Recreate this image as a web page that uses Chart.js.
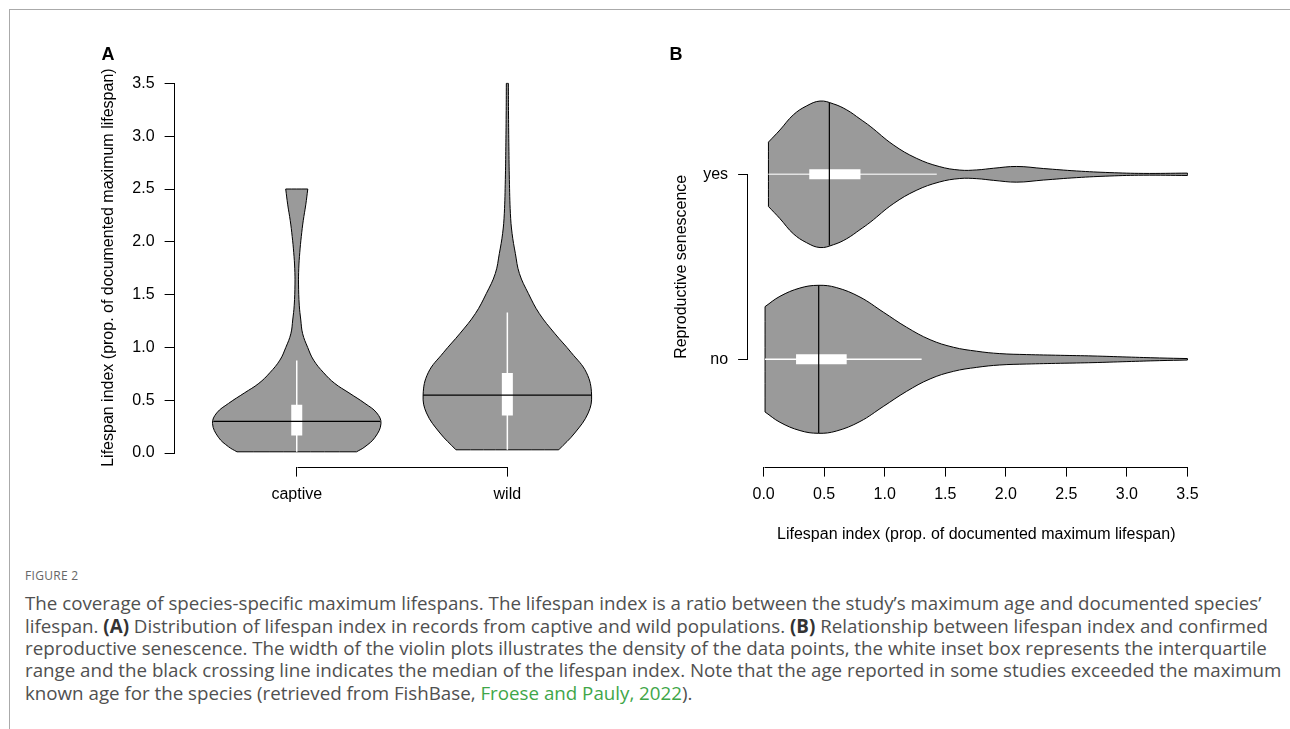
<!DOCTYPE html>
<html>
<head>
<meta charset="utf-8">
<script src="https://cdn.jsdelivr.net/npm/chart.js@4.4.1/dist/chart.umd.min.js"></script>
<style>
body{margin:0;background:#fff;width:1290px;height:729px;position:relative;overflow:hidden;font-family:"Liberation Sans",Arial,sans-serif}
#frame{position:absolute;left:9px;top:9px;width:1300px;height:740px;border-top:1px solid #aaa;border-left:1px solid #aaa}
canvas{position:absolute;top:0}
#cA{left:0}
#cB{left:645px}
.pl{position:absolute;top:45px;font:bold 18px/18px "Liberation Sans",Arial,sans-serif;color:#000}
.cap{position:absolute;left:25px;white-space:nowrap;font-family:"Open Sans",sans-serif;color:#505050;line-height:22px}
.cap b{color:#333}
.fig{font-size:12px;color:#666;letter-spacing:0.3px}
.g{color:#3fa649}
</style>
</head>
<body>
<div id="frame"></div>
<canvas id="cA" width="645" height="560"></canvas>
<canvas id="cB" width="645" height="560"></canvas>
<div class="pl" style="left:101.5px">A</div>
<div class="pl" style="left:669.5px">B</div>

<div class="cap fig" style="top:565px">FIGURE 2</div>
<div class="cap ln" style="top:592px" id="l1">The coverage of species-specific maximum lifespans. The lifespan index is a ratio between the study’s maximum age and documented species’</div>
<div class="cap ln" style="top:615px">lifespan. <b>(A)</b> Distribution of lifespan index in records from captive and wild populations. <b>(B)</b> Relationship between lifespan index and confirmed</div>
<div class="cap ln" style="top:637px">reproductive senescence. The width of the violin plots illustrates the density of the data points, the white inset box represents the interquartile</div>
<div class="cap ln" style="top:659px">range and the black crossing line indicates the median of the lifespan index. Note that the age reported in some studies exceeded the maximum</div>
<div class="cap ln" style="top:682px">known age for the species (retrieved from FishBase, <span class="g">Froese and Pauly, 2022</span>).</div>

<script>
// ---- panel A: lifespan index, captive vs wild ----
const groupsA = ['captive', 'wild'];
const ticksA = [0, 0.5, 1, 1.5, 2, 2.5, 3, 3.5];

// violin profiles: value along the axis, relative density (1 = widest)
const captiveVal  = [0.012, 0.06, 0.15, 0.28, 0.38, 0.47, 0.57, 0.66, 0.76, 0.88, 1.0, 1.13, 1.26, 1.4, 1.6, 1.75, 1.9, 2.05, 2.2, 2.35, 2.5];
const captiveDens = [0.71, 0.81, 0.93, 1.0, 0.95, 0.81, 0.62, 0.45, 0.32, 0.2, 0.13, 0.07, 0.048, 0.03, 0.021, 0.024, 0.036, 0.054, 0.077, 0.107, 0.131];
const wildVal  = [0.031, 0.19, 0.38, 0.55, 0.76, 0.95, 1.135, 1.32, 1.51, 1.7, 1.89, 2.08, 2.27, 2.59, 2.9, 3.2, 3.5];
const wildDens = [0.61, 0.8, 0.96, 1.0, 0.94, 0.76, 0.56, 0.38, 0.25, 0.143, 0.095, 0.056, 0.036, 0.024, 0.018, 0.014, 0.012];

const whiskLoA = [0.012, 0.031];
const whiskHiA = [0.877, 1.33];
const q1A = [0.167, 0.356];
const q3A = [0.457, 0.757];
const medA = [0.30, 0.549];

// ---- panel B: lifespan index vs reproductive senescence ----
const groupsB = ['no', 'yes'];
const ticksB = [0, 0.5, 1, 1.5, 2, 2.5, 3, 3.5];

const noVal  = [0.012, 0.135, 0.30, 0.452, 0.60, 0.796, 0.988, 1.18, 1.375, 1.567, 1.76, 1.95, 2.17, 2.45, 2.72, 3.0, 3.27, 3.5];
const noDens = [0.712, 0.851, 0.963, 1.0, 0.97, 0.841, 0.638, 0.434, 0.265, 0.163, 0.109, 0.077, 0.064, 0.054, 0.045, 0.031, 0.018, 0.01];
const yesVal  = [0.04, 0.135, 0.245, 0.356, 0.466, 0.576, 0.686, 0.796, 0.88, 1.07, 1.26, 1.45, 1.62, 1.76, 1.9, 2.09, 2.31, 2.585, 2.86, 3.135, 3.5];
const yesDens = [0.435, 0.599, 0.803, 0.925, 0.99, 0.952, 0.871, 0.748, 0.649, 0.399, 0.218, 0.105, 0.057, 0.059, 0.082, 0.106, 0.078, 0.045, 0.023, 0.012, 0.016];

const whiskLoB = [0.012, 0.04];
const whiskHiB = [1.305, 1.43];
const q1B = [0.268, 0.377];
const q3B = [0.686, 0.80];
const medB = [0.455, 0.543];

const HALF = 0.4;          // half width of a violin at density 1, in category units
const FILL = '#9a9a9a';
const FONT = {family: 'Liberation Sans', size: 16};

function densAt(vals, dens, v) {
  for (let i = 1; i < vals.length; i++) {
    if (v <= vals[i]) {
      const t = (v - vals[i - 1]) / (vals[i] - vals[i - 1]);
      return dens[i - 1] + t * (dens[i] - dens[i - 1]);
    }
  }
  return dens[dens.length - 1];
}

// closed outline, corners doubled so the spline keeps them sharp
function outline(c, vals, dens, horiz) {
  const pt = (v, off) => horiz ? {x: v, y: c + off} : {x: c + off, y: v};
  const n = vals.length - 1;
  const w = dens.map(d => d * HALF);
  const pts = [pt(vals[0], -w[0]), pt(vals[0], w[0]), pt(vals[0], w[0])];
  for (let i = 1; i < n; i++) pts.push(pt(vals[i], w[i]));
  pts.push(pt(vals[n], w[n]), pt(vals[n], w[n]), pt(vals[n], -w[n]), pt(vals[n], -w[n]));
  for (let i = n - 1; i >= 1; i--) pts.push(pt(vals[i], -w[i]));
  pts.push(pt(vals[0], -w[0]));
  return pts;
}

function seg(a, b, color, width, order) {
  return {data: [a, b], showLine: true, borderColor: color, borderWidth: width,
          borderCapStyle: 'butt', pointRadius: 0, fill: false, order: order};
}

function buildSets(vals, dens, lo, hi, q1, q3, med, horiz, boxW, whiskCol) {
  const out = [];
  const P = (c, v) => horiz ? {x: v, y: c} : {x: c, y: v};
  vals.forEach((vv, i) => {
    const c = i + 1;
    out.push({data: outline(c, vv, dens[i], horiz), showLine: true, fill: 'shape',
              backgroundColor: FILL, borderColor: '#000', borderWidth: 1, tension: 0.4,
              pointRadius: 0, order: 3});
    out.push(seg(P(c, lo[i]), P(c, hi[i]), whiskCol[i], 1.5, 2));
    out.push(seg(P(c, q1[i]), P(c, q3[i]), '#fff', boxW, 1));
    const hw = HALF * densAt(vv, dens[i], med[i]);
    const a = horiz ? {x: med[i], y: c - hw} : {x: c - hw, y: med[i]};
    const b = horiz ? {x: med[i], y: c + hw} : {x: c + hw, y: med[i]};
    out.push(seg(a, b, '#000', 1.2, 0));
  });
  return out;
}

// R-style axis line: only from first to last tick
const axisLines = {
  id: 'axisLines',
  afterDraw(chart) {
    const ctx = chart.ctx, a = chart.chartArea;
    ctx.save();
    ctx.strokeStyle = '#000';
    ctx.lineWidth = 1;
    [chart.scales.x, chart.scales.y].forEach(s => {
      const t = s.ticks;
      const p0 = s.getPixelForValue(t[0].value);
      const p1 = s.getPixelForValue(t[t.length - 1].value);
      ctx.beginPath();
      if (s.isHorizontal()) {
        const y = Math.round(a.bottom) + 0.5;
        ctx.moveTo(Math.round(p0) + 0.5, y); ctx.lineTo(Math.round(p1) + 0.5, y);
      } else {
        const x = Math.round(a.left) - 0.5;
        ctx.moveTo(x, Math.round(p0) + 0.5); ctx.lineTo(x, Math.round(p1) + 0.5);
      }
      ctx.stroke();
    });
    ctx.restore();
  }
};

function axis(opts) {
  return Object.assign({
    type: 'linear',
    border: {display: false},
    grid: {drawOnChartArea: false, drawTicks: true, tickLength: 10, color: '#000', lineWidth: 1},
  }, opts);
}

const common = {
  responsive: false,
  animation: false,
  devicePixelRatio: 1,
  events: [],
  plugins: {legend: {display: false}, tooltip: {enabled: false}}
};

new Chart(document.getElementById('cA'), {
  type: 'scatter',
  data: {datasets: buildSets([captiveVal, wildVal], [captiveDens, wildDens],
                             whiskLoA, whiskHiA, q1A, q3A, medA, false, 11, ['#fff', '#fff'])},
  options: Object.assign({}, common, {
    layout: {padding: {left: 90, right: 15.5, top: 68.6, bottom: 0}},
    scales: {
      x: axis({
        min: 0.42, max: 2.58,
        afterBuildTicks: s => { s.ticks = groupsA.map((g, i) => ({value: i + 1})); },
        afterFit: s => { s.height = 93.4; },
        ticks: {callback: v => groupsA[v - 1], font: FONT, color: '#000', padding: 8, autoSkip: false, maxRotation: 0}
      }),
      y: axis({
        min: -0.128, max: 3.64,
        afterBuildTicks: s => { s.ticks = ticksA.map(v => ({value: v})); },
        afterFit: s => { s.width = 84.6; },
        ticks: {callback: v => v.toFixed(1), font: FONT, color: '#000', padding: 10},
        title: {display: true, text: 'Lifespan index (prop. of documented maximum lifespan)',
                font: FONT, color: '#000', padding: {top: 9, bottom: 0}}
      })
    }
  }),
  plugins: [axisLines]
});

new Chart(document.getElementById('cB'), {
  type: 'scatter',
  data: {datasets: buildSets([noVal, yesVal], [noDens, yesDens],
                             whiskLoB, whiskHiB, q1B, q3B, medB, true, 10, ['#fff', '#e2e2e2'])},
  options: Object.assign({}, common, {
    layout: {padding: {left: 20, right: 85.6, top: 67, bottom: 16}},
    scales: {
      x: axis({
        min: -0.128, max: 3.64,
        afterBuildTicks: s => { s.ticks = ticksB.map(v => ({value: v})); },
        afterFit: s => { s.height = 77.4; },
        ticks: {callback: v => v.toFixed(1), font: FONT, color: '#000', padding: 8, autoSkip: false, maxRotation: 0},
        title: {display: true, text: 'Lifespan index (prop. of documented maximum lifespan)',
                font: FONT, color: '#000', padding: {top: 0, bottom: 0}}
      }),
      y: axis({
        min: 0.42, max: 2.58,
        afterBuildTicks: s => { s.ticks = groupsB.map((g, i) => ({value: i + 1})); },
        afterFit: s => { s.width = 83.1; },
        ticks: {callback: v => groupsB[v - 1], font: FONT, color: '#000', padding: 10},
        title: {display: true, text: 'Reproductive senescence',
                font: FONT, color: '#000', padding: {top: 7, bottom: 0}}
      })
    }
  }),
  plugins: [axisLines]
});

// caption: scale the font so the first line spans the same width as in the figure
const l1 = document.getElementById('l1');
const lines = document.querySelectorAll('.ln');
lines.forEach(l => l.style.fontSize = '16px');
const w1 = l1.getBoundingClientRect().width;
const fs = 16 * 1237 / w1;
lines.forEach(l => l.style.fontSize = fs.toFixed(2) + 'px');
</script>
</body>
</html>
